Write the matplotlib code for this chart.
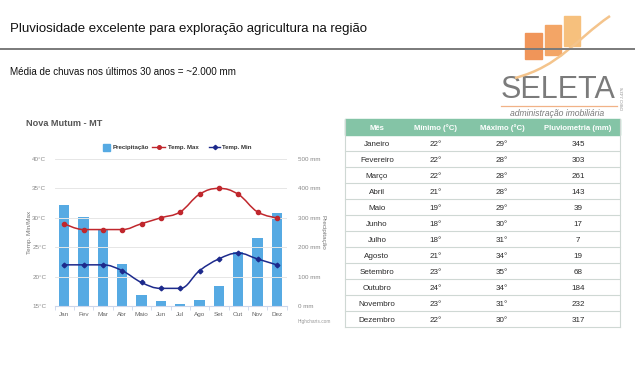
import matplotlib
matplotlib.use("Agg")
import matplotlib.pyplot as plt
from matplotlib.path import Path
from matplotlib.patches import PathPatch, Rectangle
from matplotlib.lines import Line2D

plt.rcParams['font.family'] = ['Liberation Sans', 'DejaVu Sans']

# Dados climáticos de Nova Mutum - MT
meses_curtos = ["Jan", "Fev", "Mar", "Abr", "Maio", "Jun", "Jul", "Ago", "Set", "Out", "Nov", "Dez"]
meses = ["Janeiro", "Fevereiro", "Março", "Abril", "Maio", "Junho", "Julho",
         "Agosto", "Setembro", "Outubro", "Novembro", "Dezembro"]
temp_min = [22, 22, 22, 21, 19, 18, 18, 21, 23, 24, 23, 22]
temp_max = [29, 28, 28, 28, 29, 30, 31, 34, 35, 34, 31, 30]
precipitacao = [345, 303, 261, 143, 39, 17, 7, 19, 68, 184, 232, 317]
temp_ticks = [15, 20, 25, 30, 35, 40]
chuva_ticks = [0, 100, 200, 300, 400, 500]
cabecalho = ["Mês", "Mínimo (°C)", "Máximo (°C)", "Pluviometria (mm)"]

COR_BARRA = '#56aae3'
COR_MAX = '#c0272d'
COR_MIN = '#1d2a8c'
COR_TABELA = '#84c4a6'


# Curva suave no estilo Highcharts (curvas de Bezier entre os pontos).
def spline_path(xs, ys, smoothing=1.5):
    n = len(xs)
    left = [(xs[i], ys[i]) for i in range(n)]
    right = [(xs[i], ys[i]) for i in range(n)]
    den = smoothing + 1
    for i in range(1, n - 1):
        x, y = xs[i], ys[i]
        lx, ly, nx, ny = xs[i - 1], ys[i - 1], xs[i + 1], ys[i + 1]
        lcx = (smoothing * x + lx) / den
        lcy = (smoothing * y + ly) / den
        rcx = (smoothing * x + nx) / den
        rcy = (smoothing * y + ny) / den
        corr = 0
        if rcx != lcx:
            corr = (rcy - lcy) * (rcx - x) / (rcx - lcx) + y - rcy
        lcy += corr
        rcy += corr
        if lcy > ly and lcy > y:
            lcy = max(ly, y); rcy = 2 * y - lcy
        elif lcy < ly and lcy < y:
            lcy = min(ly, y); rcy = 2 * y - lcy
        if rcy > ny and rcy > y:
            rcy = max(ny, y); lcy = 2 * y - rcy
        elif rcy < ny and rcy < y:
            rcy = min(ny, y); lcy = 2 * y - rcy
        left[i] = (lcx, lcy)
        right[i] = (rcx, rcy)
    verts = [(xs[0], ys[0])]
    codes = [Path.MOVETO]
    for i in range(1, n):
        verts += [right[i - 1], left[i], (xs[i], ys[i])]
        codes += [Path.CURVE4] * 3
    return Path(verts, codes)


fig = plt.figure(figsize=(6.4, 3.9), dpi=100)

# Camada de fundo em pixels para textos, logo e tabela
bg = fig.add_axes([0, 0, 1, 1])
bg.set_xlim(0, 640)
bg.set_ylim(390, 0)
bg.axis('off')

bg.text(10, 29, "Pluviosidade excelente para exploração agricultura na região",
        fontsize=9.5, color='#111111', va='center', ha='left')
bg.plot([0, 635], [49, 49], color='#7a7a7a', lw=1.4, solid_capstyle='butt', zorder=5)
bg.text(10, 72, "Média de chuvas nos últimos 30 anos = ~2.000 mm",
        fontsize=7.1, color='#111111', va='center', ha='left', weight='medium')

# Logo SELETA
bg.add_patch(Rectangle((525, 33), 17, 26, color='#f09559', zorder=3))
bg.add_patch(Rectangle((545, 25), 16, 30, color='#f3a566', zorder=3))
bg.add_patch(Rectangle((564, 16), 16, 30, color='#f6c07d', zorder=3))
swoosh = Path([(515, 78), (560, 66), (575, 40), (610, 16)],
              [Path.MOVETO, Path.CURVE4, Path.CURVE4, Path.CURVE4])
bg.add_patch(PathPatch(swoosh, fill=False, edgecolor='#f4c48c', lw=1.8, zorder=4))
bg.text(558, 90, "SELETA", fontsize=22, color='#7b7b7b', ha='center', va='center')
bg.plot([501, 617], [105.5, 105.5], color='#f1b287', lw=0.9)
bg.text(557, 114, "administração imobiliária", fontsize=6.2, style='italic',
        color='#7a7a7a', ha='center', va='center')
bg.text(623, 98, "CRECI J-4376", fontsize=2.6, color='#8a8a8a', rotation=90,
        ha='center', va='center')

# Título e legenda do gráfico
bg.text(26, 124, "Nova Mutum - MT", fontsize=6.6, weight='bold', color='#555555',
        va='center', ha='left')
bg.add_patch(Rectangle((103, 144), 7, 6.5, color=COR_BARRA))
bg.text(113, 147, "Precipitação", fontsize=4.4, weight='bold', color='#333333', va='center')
bg.add_line(Line2D([152, 165], [147, 147], color=COR_MAX, lw=1))
bg.plot([158.5], [147], 'o', color=COR_MAX, ms=2.6)
bg.text(168, 147, "Temp. Max", fontsize=4.4, weight='bold', color='#333333', va='center')
bg.add_line(Line2D([209, 220], [147, 147], color=COR_MIN, lw=1))
bg.plot([214.5], [147], 'D', color=COR_MIN, ms=2.2)
bg.text(222, 147, "Temp. Min", fontsize=4.4, weight='bold', color='#333333', va='center')

bg.text(29, 232, "Temp. Min/Max", fontsize=4.6, color='#777777', rotation=90,
        ha='center', va='center')
bg.text(323, 232, "Precipitação", fontsize=4.6, color='#777777', rotation=270,
        ha='center', va='center')
bg.text(314, 322, "Highcharts.com", fontsize=3.4, color='#999999', ha='center', va='center')

# Gráfico: barras no eixo da direita, temperaturas no eixo da esquerda
ax = fig.add_axes([54.5 / 640, 1 - 306 / 390, 232 / 640, 147 / 390])
ax_t = ax.twinx()
x = list(range(len(meses_curtos)))
ax.bar(x, precipitacao, width=0.55, color=COR_BARRA, zorder=2)
ax.set_xlim(-0.5, 11.5)
ax.set_ylim(0, 500)
ax.patch.set_visible(False)
ax.yaxis.tick_right()
ax.set_yticks(chuva_ticks)
ax.set_yticklabels([f"{v} mm" for v in chuva_ticks])
ax.tick_params(axis='y', length=0, pad=8, labelsize=4.5, labelcolor='#888888')
ax.set_xticks(x)
ax.set_xticklabels(meses_curtos)
ax.set_xticks([i - 0.5 for i in range(13)], minor=True)
ax.tick_params(axis='x', which='major', length=0, pad=4, labelsize=4.6, labelcolor='#666666')
ax.tick_params(axis='x', which='minor', length=3, color='#ccd6eb', width=0.6)
for s in ['top', 'left', 'right']:
    ax.spines[s].set_visible(False)
ax.spines['bottom'].set_color('#ccd6eb')
ax.spines['bottom'].set_linewidth(0.8)

ax_t.set_ylim(15, 40)
ax_t.set_xlim(-0.5, 11.5)
ax_t.yaxis.tick_left()
ax_t.set_yticks(temp_ticks)
ax_t.set_yticklabels([f"{t}°C" for t in temp_ticks])
ax_t.tick_params(axis='y', length=0, pad=6, labelsize=4.5, labelcolor='#888888')
for s in ax_t.spines.values():
    s.set_visible(False)
for t in temp_ticks[1:]:
    ax_t.axhline(t, color='#e6e6e6', lw=0.7, zorder=0)
ax.set_zorder(1)
ax_t.set_zorder(2)

ax_t.add_patch(PathPatch(spline_path(x, temp_max), fill=False, edgecolor=COR_MAX, lw=1.1, zorder=3))
ax_t.plot(x, temp_max, 'o', color=COR_MAX, ms=3, zorder=4)
ax_t.add_patch(PathPatch(spline_path(x, temp_min), fill=False, edgecolor=COR_MIN, lw=1.1, zorder=3))
ax_t.plot(x, temp_min, 'D', color=COR_MIN, ms=2.4, zorder=4)

# Tabela
tab_x0, tab_x1 = 345, 620
col_centros = [377, 436, 502, 578]
topo, alt_cab, alt_linha = 119, 16, 16
bg.add_patch(Rectangle((tab_x0, topo), tab_x1 - tab_x0, alt_cab, color=COR_TABELA))
for j, h in enumerate(cabecalho):
    bg.text(col_centros[j], topo + alt_cab / 2 + 1, h, fontsize=5.6, color='white',
            weight='bold', ha='center', va='center')
for i, mes in enumerate(meses):
    y0 = topo + alt_cab + i * alt_linha
    linha = [mes, f"{temp_min[i]}°", f"{temp_max[i]}°", str(precipitacao[i])]
    for j, valor in enumerate(linha):
        bg.text(col_centros[j], y0 + alt_linha / 2 + 1, valor, fontsize=5.8,
                color='#2a2a2a', ha='center', va='center')
    bg.plot([tab_x0, tab_x1], [y0 + alt_linha] * 2, color='#cfd8d4', lw=0.8)
fundo = topo + alt_cab + len(meses) * alt_linha
bg.plot([tab_x0, tab_x0], [topo, fundo], color='#cfd8d4', lw=0.8)
bg.plot([tab_x1, tab_x1], [topo, fundo], color='#cfd8d4', lw=0.8)

fig.savefig("out.png", dpi=100)
